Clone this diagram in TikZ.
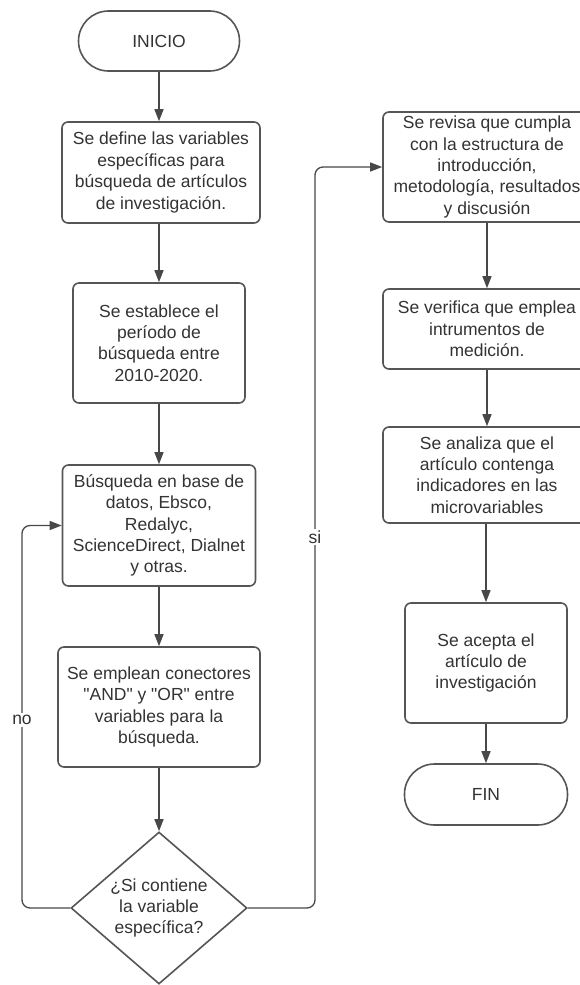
\documentclass[tikz,border=0pt]{standalone}
\usepackage{fontspec}
\setmainfont{Liberation Sans}[Ligatures=TeXOff]
\usetikzlibrary{arrows.meta,shapes.geometric}
\definecolor{edge}{HTML}{555555}
\definecolor{lineclr}{HTML}{484848}
\definecolor{txt}{HTML}{333333}
\begin{document}
\begin{tikzpicture}[x=1pt,y=-1pt,
  every node/.style={font=\fontsize{17.5}{21.4}\selectfont, text=txt},
  proc/.style={draw=edge, line width=1.6pt, rounded corners=6pt, align=center, inner sep=0pt},
  term/.style={draw=edge, line width=1.6pt, rounded corners=30pt, align=center, inner sep=0pt, minimum width=161pt, minimum height=60pt},
  dec/.style={draw=edge, line width=1.6pt, diamond, aspect=1.16, align=center, inner sep=0pt, minimum width=176pt, minimum height=152pt},
  conn/.style={draw=lineclr, line width=1.3pt, -{Triangle[width=9pt,length=12pt]}},
  lab/.style={fill=white, inner sep=2pt}
]
\useasboundingbox[fill=white] (0,0) rectangle (579,985);

% left column
\node[term] (start) at (159,41) {INICIO};
\node[proc, minimum width=198pt, minimum height=101pt] (b1) at (161,172.5)
  {Se define las variables\\específicas para\\búsqueda de artículos\\de investigación.};
\node[proc, minimum width=172pt, minimum height=120pt] (b2) at (159,343)
  {Se establece el\\período de\\búsqueda entre\\2010-2020.};
\node[proc, minimum width=193pt, minimum height=121pt] (b3) at (159,525.5)
  {Búsqueda en base de\\datos, Ebsco,\\Redalyc,\\ScienceDirect, Dialnet\\y otras.};
\node[proc, minimum width=202pt, minimum height=120pt] (b4) at (159,707)
  {Se emplean conectores\\"AND" y "OR" entre\\variables para la\\búsqueda.};
\node[dec] (dia) at (159,908)
  {¿Si contiene\\la variable\\específica?};

% right column
\node[proc, minimum width=208pt, minimum height=110pt] (b5) at (487,167)
  {Se revisa que cumpla\\con la estructura de\\introducción,\\metodología, resultados\\y discusión};
\node[proc, minimum width=208pt, minimum height=80pt] (b6) at (487,329)
  {Se verifica que emplea\\intrumentos de\\medición.};
\node[proc, minimum width=208pt, minimum height=96pt] (b7) at (487,475)
  {Se analiza que el\\artículo contenga\\indicadores en las\\microvariables};
\node[proc, minimum width=162pt, minimum height=120pt] (b8) at (486,663)
  {Se acepta el\\artículo de\\investigación};
\node[term, minimum width=163pt, minimum height=61pt] (fin) at (486,794.5) {FIN};

% connectors left
\draw[conn] (start.south) -- (b1.north -| start.south);
\draw[conn] (b1.south -| b2.north) -- (b2.north);
\draw[conn] (b2.south) -- (b3.north);
\draw[conn] (b3.south) -- (b4.north);
\draw[conn] (b4.south) -- (dia.north);

% connectors right
\draw[conn] (b5.south) -- (b6.north);
\draw[conn] (b6.south) -- (b7.north);
\draw[conn] (b7.south -| b8.north) -- (b8.north);
\draw[conn] (b8.south) -- (fin.north);

% loops
\coordinate (nx) at (22,0);
\coordinate (sx) at (315,0);
\draw[conn, rounded corners=8pt] (dia.west) -| (nx |- b3.west) -- (b3.west);
\draw[conn, rounded corners=8pt] (dia.east) -| (sx |- b5.west) -- (b5.west);
\node[lab] (no) at (22,720) {no};
\node[lab] (si) at (315,537) {si};
\end{tikzpicture}
\end{document}
